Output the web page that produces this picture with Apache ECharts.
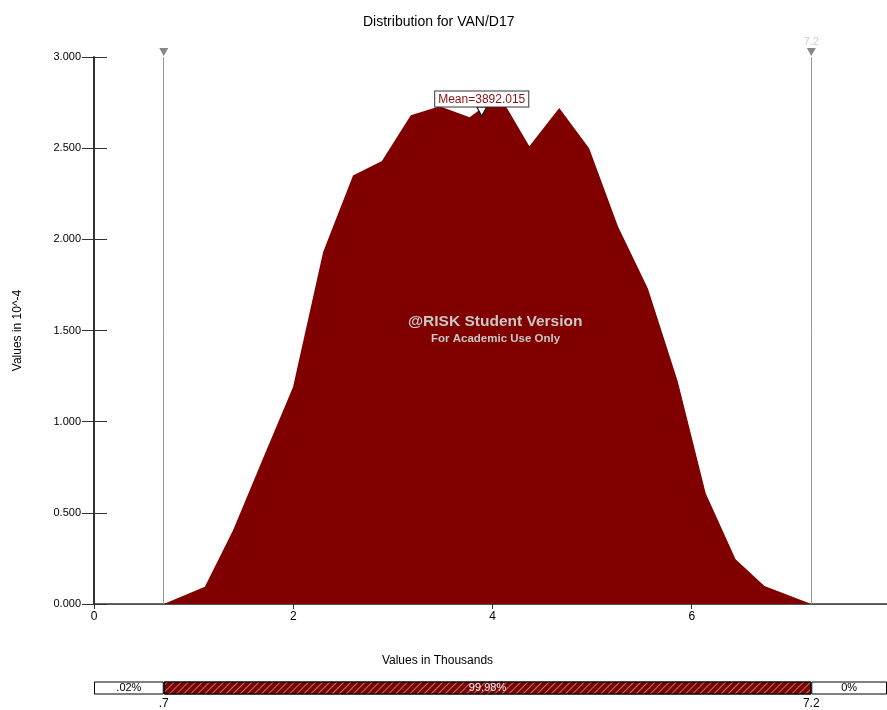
<!DOCTYPE html>
<html><head><meta charset="utf-8">
<script src="https://cdn.jsdelivr.net/npm/echarts@6/dist/echarts.min.js"></script>
<style>html,body{margin:0;padding:0;background:#fff}#c{width:887px;height:710px}</style>
</head><body><div id="c"></div>
<script>
// ---- data ----
const xValues = [0.7, 1.113, 1.397, 1.694, 1.998, 2.30, 2.60, 2.89, 3.18, 3.47, 3.77, 4.07, 4.37, 4.67, 4.97, 5.26, 5.56, 5.86, 6.14, 6.44, 6.73, 7.2];
const densities = [0, 0.095, 0.406, 0.795, 1.19, 1.93, 2.35, 2.43, 2.68, 2.73, 2.67, 2.79, 2.51, 2.72, 2.50, 2.07, 1.73, 1.22, 0.607, 0.245, 0.099, 0];
const delimiters = [0.7, 7.2];
const delimiterLabels = ['.7', '7.2'];
const barPercents = ['.02%', '99.98%', '0%'];
const meanValue = 3.892015;
const meanLabel = 'Mean=3892.015';
const xTickValues = [0, 2, 4, 6];
const yTickValues = [0, 0.5, 1, 1.5, 2, 2.5, 3];
const xMax = 7.96, yMax = 3;

const FONT = '"Liberation Sans", Arial, sans-serif';
const chart = echarts.init(document.getElementById('c'));
const areaData = xValues.map((x, i) => [x, densities[i]]);

chart.setOption({
  animation: false,
  textStyle: {fontFamily: FONT},
  title: {text: 'Distribution for VAN/D17', left: 358, top: 10,
    textStyle: {fontSize: 14, fontWeight: 'normal', color: '#000', fontFamily: FONT}},
  grid: [
    {left: 94, top: 57, right: 0, bottom: 106},
    {left: 94, top: 682, right: 0, height: 13}
  ],
  xAxis: [
    {gridIndex: 0, type: 'value', min: 0, max: xMax, interval: 2,
      splitLine: {show: false},
      axisLine: {show: true, lineStyle: {color: '#333', width: 1.5}},
      axisTick: {show: true, length: 5, lineStyle: {color: '#333'}},
      axisLabel: {showMaxLabel: false, color: '#000', fontSize: 12, margin: 7, fontFamily: FONT},
      name: 'Values in Thousands', nameLocation: 'middle', nameGap: 51,
      nameTextStyle: {color: '#000', fontSize: 12, fontFamily: FONT, padding: [0, 106, 0, 0]}},
    {gridIndex: 0, type: 'value', min: 0, max: xMax, position: 'top',
      splitLine: {show: false}, axisTick: {show: false}, axisLabel: {show: false},
      axisLine: {show: true, lineStyle: {color: '#555', width: 1}}},
    {gridIndex: 1, type: 'value', min: 0, max: xMax,
      splitLine: {show: false}, axisLine: {show: false},
      axisTick: {show: false},
      axisLabel: {show: true, customValues: delimiters, color: '#000', fontSize: 12, margin: 4, fontFamily: FONT,
        formatter: v => delimiterLabels[delimiters.indexOf(v)] || ''}}
  ],
  yAxis: [
    {gridIndex: 0, type: 'value', min: 0, max: yMax, interval: 0.5,
      splitLine: {show: false},
      axisLine: {show: true, lineStyle: {color: '#333', width: 2}},
      axisTick: {show: true, length: 12, lineStyle: {color: '#333'}},
      axisLabel: {color: '#000', fontSize: 11, margin: 13, fontFamily: FONT, formatter: v => v.toFixed(3)},
      name: 'Values in 10^-4', nameLocation: 'middle', nameGap: 70,
      nameTextStyle: {color: '#000', fontSize: 12, fontFamily: FONT}},
    {gridIndex: 0, type: 'value', min: 0, max: yMax, interval: 0.5, position: 'left',
      splitLine: {show: false}, axisLabel: {show: false},
      axisLine: {show: false},
      axisTick: {show: true, inside: true, length: 13, lineStyle: {color: '#333'}}},
    {gridIndex: 1, type: 'category', data: ['bar'], show: false}
  ],
  graphic: [
    {type: 'text', top: 314, left: 408, z: 100,
      style: {text: '@RISK Student Version', fill: '#c8c8c8', font: 'bold 15.5px ' + FONT}},
    {type: 'text', top: 333, left: 431, z: 100,
      style: {text: 'For Academic Use Only', fill: '#c8c8c8', font: 'bold 11.5px ' + FONT}}
  ],
  series: [
    {type: 'line', xAxisIndex: 0, yAxisIndex: 0, data: areaData, symbol: 'none', z: 1,
      lineStyle: {width: 0, color: '#800000'}, areaStyle: {color: '#800000', opacity: 1},
      markLine: {silent: true, symbol: 'none', label: {show: false},
        lineStyle: {color: '#999', width: 1, type: 'solid'},
        data: delimiters.map(d => [{coord: [d, 0]}, {coord: [d, yMax]}])}},
    {type: 'scatter', xAxisIndex: 0, yAxisIndex: 0, clip: false, z: 5,
      symbol: 'triangle', symbolRotate: 180, symbolSize: [9, 8], symbolOffset: [0, -5],
      itemStyle: {color: '#888', opacity: 1},
      data: delimiters.map((d, i) => ({value: [d, yMax],
        label: {show: i === 1, position: 'top', distance: 1, formatter: delimiterLabels[i],
          color: '#ccc', fontSize: 11, fontFamily: FONT}}))},
    {type: 'scatter', xAxisIndex: 0, yAxisIndex: 0, clip: false, z: 10, zlevel: 1,
      symbol: 'triangle', symbolRotate: 180, symbolSize: [10, 9],
      itemStyle: {color: '#fff', borderColor: '#000', borderWidth: 1, opacity: 1},
      data: [[meanValue, 2.701]],
      label: {show: true, position: 'top', distance: 0, formatter: meanLabel,
        color: '#8b1010', fontSize: 12, fontFamily: FONT,
        backgroundColor: '#fff', borderColor: '#333', borderWidth: 1, padding: [2, 3, 1, 3]}},
    {type: 'bar', xAxisIndex: 2, yAxisIndex: 2, stack: 'b', barWidth: 13,
      data: [delimiters[0]],
      itemStyle: {color: '#fff', borderColor: '#000', borderWidth: 1},
      label: {show: true, position: 'inside', formatter: barPercents[0], color: '#000', fontSize: 11, fontFamily: FONT}},
    {type: 'bar', xAxisIndex: 2, yAxisIndex: 2, stack: 'b', barWidth: 13,
      data: [delimiters[1] - delimiters[0]],
      itemStyle: {color: '#800000', borderColor: '#000', borderWidth: 1,
        decal: {symbol: 'rect', symbolSize: 1, dashArrayX: [1, 0], dashArrayY: [1, 4], rotation: -Math.PI / 4, color: 'rgba(200,200,200,0.6)'}},
      label: {show: true, position: 'inside', formatter: barPercents[1], color: '#eee', fontSize: 11, fontFamily: FONT}},
    {type: 'bar', xAxisIndex: 2, yAxisIndex: 2, stack: 'b', barWidth: 13,
      data: [xMax - delimiters[1]],
      itemStyle: {color: '#fff', borderColor: '#000', borderWidth: 1},
      label: {show: true, position: 'inside', formatter: barPercents[2], color: '#000', fontSize: 11, fontFamily: FONT}}
  ]
});
</script>
</body></html>
